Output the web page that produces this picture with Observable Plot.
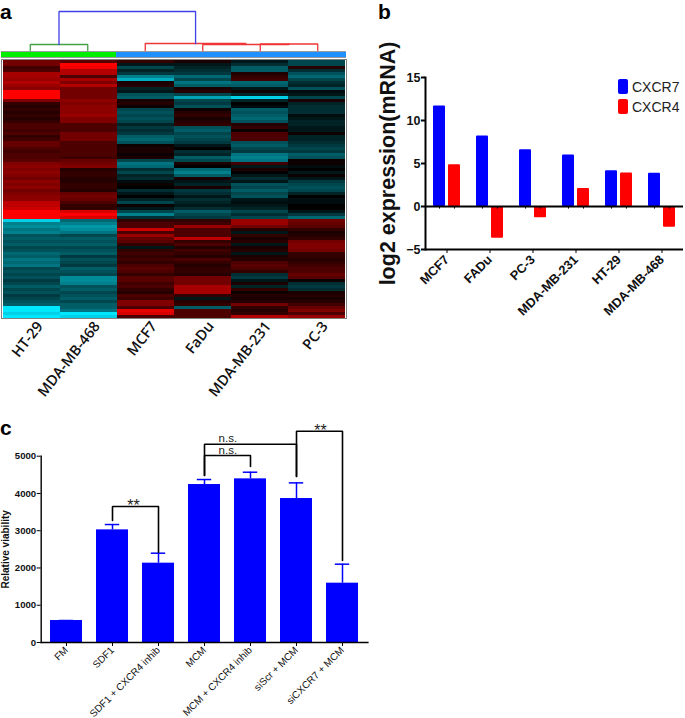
<!DOCTYPE html>
<html><head><meta charset="utf-8">
<script src="https://cdn.jsdelivr.net/npm/d3@7"></script>
<script src="https://cdn.jsdelivr.net/npm/@observablehq/plot@0.6"></script>
<style>
html,body{margin:0;padding:0;background:#fff}
#root{position:relative;width:685px;height:718px;overflow:hidden;font-family:"Liberation Sans",Arial,sans-serif}
#root>svg,#root>div{position:absolute}
#root svg{overflow:visible;background:transparent}
.letter{font-weight:bold;font-size:21px;color:#000}
.sw{border-radius:2px;width:10px;height:15px}
.lg{font-size:14px;line-height:16px;color:#222}
</style></head><body><div id="root"></div>
<script>
// Panel a: heat map (rows top to bottom)
const heatLines = ["HT-29","MDA-MB-468","MCF7","FaDu","MDA-MB-231","PC-3"];
const HT29 = [.45,.45,.25,.3,.65,.65,.6,.7,.6,.55, 1,1,1,.5,.2,.15,.2,.15,.2,.15, .2,.3,.3,.25,.3,.2,.25,.4,.4,.3, .25,.3,.3,.35,.5,.55,.5,.55,.5,.45, .55,.5,.55,.45,.5,.55,.55,.75,.75,.8, 1,1,1,-.9,-.55,-.6,-.5,-.55,-.35,-.4, -.35,-.4,-.3,-.35,-.45,-.4,-.5,-.45,-.5,-.3, -.35,-.3,-.35,-.25,-.3,-.4,-.3,-.35,-.25,-.3, -.35,-.4,-1,-1,-.9,-1];
const MB468 = [.35,1,.95,.7,.7,.3,.65,.5,.7,.45, .45,.45,.45,.55,.5,.55,.55,.55,.6,.5, .5,.3,.3,.3,.45,.45,.45,.3,.3,.3, .3,.3,.25,.4,.45,.5,.15,.2,.2,.15, .15,.2,.2,.15,.4,.45,.4,.3,.2,.2, .85,1,.85,-.45,-.55,-.65,-.6,-.5,-.3,-.4, -.35,-.4,-.3,-.35,-.4,-.25,-.35,-.3,-.25,-.4, -.35,-.3,-.6,-.6,-.55,-.35,-.4,-.3,-.35,-.4, -.3,-.4,-.4,-.5,-1,-.9];
const MCF7h = [.2,-.1,-.3,-.15,-.25,-.55,-.75,.1,.15,-.15, -.1,-.35,-.4,.1,.15,.05,-.3,-.35,-.3,-.35, -.3,-.15,-.25,-.2,-.25,-.4,-.45,-.35,.05,.1, .1,.05,.1,-.3,-.5,-.45,-.2,-.3,-.15,-.2, -.05,.05,0,-.2,-.1,0,-.15,-.3,.05,-.1, -.3,-.55,-.2,.2,.3,.3,.8,.3,.6,.4, .35,.2,-.1,.2,.25,.2,.25,.2,.3,.35, .3,.2,.35,.35,.25,.3,.2,.15,.3,.25, .5,.5,.3,.9,.85,.3];
const FaDuh = [.1,-.1,-.15,-.2,-.25,-.45,-.3,-.5,-.4,.1, .15,-.3,-.7,-.3,-.25,-.35,.05,.15,.2,.1, .15,.2,-.35,-.4,-.3,-.35,-.3,-.25,-.1,0, -.2,-.15,-.4,-.3,.1,0,-.45,-.55,-.4,.1, -.1,-.15,.1,-.25,-.2,-.1,-.2,-.15,-.1,-.2, -.4,-.3,-.25,.2,.25,.6,.3,.3,.3,.75, .2,.3,.15,.25,.2,.15,.3,.2,.15,.2, .2,.15,.45,.45,.45,.65,.65,.65,.2,-.1, .15,.2,-.4,.3,.3,.3];
const MB231 = [-.1,-.2,-.4,-.4,.12,.2,.25,-.45,-.4,-.1, .05,-.15,-.9,-.15,0,-.05,-.4,-.35,-.4,-.45, -.35,.15,.2,.05,.3,.3,.3,-.35,-.4,-.3, -.25,-.5,-.55,-.5,.25,-.1,.1,0,-.1,-.2, -.1,-.35,-.3,-.4,-.3,-.35,-.1,-.05,-.1,-.15, -.3,-.2,-.3,.6,.6,.45,.15,-.1,.2,.1, .15,-.1,.1,.15,-.1,.1,.15,.3,.35,.3, .2,-.2,-.25,-.1,.1,-.15,.2,.05,.15,.1, .15,.45,.2,.15,.2,.7];
const PC3h = [-.3,-.3,.15,-.2,-.35,-.45,-.3,-.2,-.15,-.35, -.05,-.1,-.3,.1,-.15,-.2,-.2,-.2,-.05,-.1, -.15,-.15,-.1,-.1,.05,-.15,-.15,-.2,-.25,-.3, -.25,-.4,-.35,.05,.05,-.05,0,-.1,.05,-.1, -.25,-.3,-.35,-.3,-.15,0,-.05,-.05,0,.02, -.1,-.25,-.45,.45,.4,.35,.2,.1,.15,.2, .45,.5,.5,.45,.2,.2,.15,.2,.25,.3, .3,.4,.35,.05,-.2,-.25,-.2,.1,.15,.1, .15,.25,.4,.5,.3,.6];
const heatColumns = [HT29,MB468,MCF7h,FaDuh,MB231,PC3h];
const clusterBar = [["#00ee00",0,2],["#1e90ff",2,6]];
// dendrogram merges: left, right, left base, right base, height, colour
const merges = [
  [0.5,1.5,0,0,6,"#45a045"],
  [4.5,5.5,0,0,6.5,"#f03535"],
  [3.5,5,0,6.5,6,"#f03535"],
  [2.5,4.25,0,6,7,"#f03535"],
  [1,3.375,6,7,39,"#4040e8"]
];
// Panel b
const cellsB = ["MCF7","FADu","PC-3","MDA-MB-231","HT-29","MDA-MB-468"];
const cxcr7 = [11.7,8.2,6.6,6.0,4.15,3.87];
const cxcr4 = [4.85,-3.7,-1.3,2.1,3.9,-2.4];
const seriesB = ["CXCR7","CXCR4"];
const seriesColors = ["#0000ff","#ff0000"];
const ticksB = [-5,0,5,10,15];
// Panel c
const treatments = ["FM","SDF1","SDF1 + CXCR4 inhib","MCM","MCM + CXCR4 inhib","siScr + MCM","siCXCR7 + MCM"];
const viability = [590,3023,2129,4240,4392,3864,1592];
const errorTop = [590,3166,2397,4374,4570,4284,2102];
const ticksC = [0,1000,2000,3000,4000,5000];
// brackets: left, right, left base, right base, top
const brackets = [
  ["SDF1","SDF1 + CXCR4 inhib",3274,2424,3649],
  ["MCM","MCM + CXCR4 inhib",4481,4723,5018],
  ["MCM","siScr + MCM",4481,4454,5322],
  ["siScr + MCM","siCXCR7 + MCM",4454,2200,5671]
];
const notes = [["**","SDF1",3660,21],["n.s.","MCM",5150,23.3],["n.s.","MCM",5480,23.3],["**","siScr + MCM",5690,24]];

const root = document.getElementById("root");
const arial = '"Liberation Sans",Arial,sans-serif';
function place(el,left,top){el.style.left=left+"px";el.style.top=top+"px";root.appendChild(el);return el;}
function html(cls,text,left,top){const d=document.createElement("div");d.className=cls;d.textContent=text;return place(d,left,top);}

// ---- panel a: dendrogram + cluster bar
const dendroPts = merges.flatMap(([l,r,lb,rb,h,c],i)=>[
  {x:l,h:lb,m:i,c},{x:l,h,m:i,c},{x:r,h,m:i,c},{x:r,h:rb,m:i,c}]);
place(Plot.plot({
  width:350,height:59,marginLeft:1,marginRight:4,marginTop:0,marginBottom:0,
  x:{domain:[0,6],axis:null},
  y:{domain:[50,-9],range:[0,59],axis:null},
  marks:[
    Plot.rect([0],{x1:0,x2:6,y1:-1,y2:-8,fill:"#9a9a9a"}),
    Plot.rect(clusterBar,{x1:d=>d[1],x2:d=>d[2],y1:-2,y2:-7,fill:d=>d[0]}),
    Plot.line(dendroPts,{x:"x",y:"h",z:"m",stroke:"c",strokeWidth:1.3,curve:"linear",strokeLinejoin:"miter"})
  ]
}),0,0);

// ---- panel a: heat map
const heatCells = heatLines.flatMap((line,c)=>heatColumns[c].map((v,r)=>({line,r,v})));
place(Plot.plot({
  width:350,height:345,marginLeft:1,marginRight:4,marginTop:0,marginBottom:86,
  x:{domain:heatLines,padding:0,label:null},
  y:{domain:d3.range(86),padding:0,axis:null},
  color:{type:"linear",domain:[-1,0,1],range:["#00e8ff","#000000","#ff0000"],clamp:true},
  marks:[
    Plot.cell(heatCells,{x:"line",y:"r",fill:"v",shapeRendering:"crispEdges"}),
    Plot.frame({stroke:"#808080",strokeWidth:1}),
    Plot.axisX({anchor:"bottom",tickSize:0,tickRotate:-52,tickPadding:5,dx:8,fontSize:14.5,fontWeight:600,fontFamily:'"Open Sans",sans-serif',label:null,fill:"#111"})
  ]
}),0,59);

// ---- panel b
const barsB = cellsB.flatMap((cell,i)=>[
  {cell,series:seriesB[0],value:cxcr7[i]},
  {cell,series:seriesB[1],value:cxcr4[i]}]);
place(Plot.plot({
  width:305,height:340,marginLeft:44,marginRight:2,marginTop:77,marginBottom:91,
  fx:{domain:cellsB,padding:0,label:null},
  x:{domain:seriesB,paddingInner:.19,paddingOuter:.45,axis:null},
  y:{domain:[-5,15],label:null},
  color:{domain:seriesB,range:seriesColors},
  marks:[
    Plot.barY(barsB,{fx:"cell",x:"series",y:"value",fill:"series",rx:1}),
    Plot.ruleY([0],{stroke:"#000",strokeWidth:2}),
    Plot.ruleY([-5],{stroke:"#000",strokeWidth:2}),
    Plot.ruleX(barsB,{fx:"cell",x:"series",y1:0,y2:-.3,stroke:"#000",strokeWidth:1}),
    Plot.axisY({ticks:ticksB,tickSize:4,tickPadding:1,fontSize:12.5,fontWeight:"bold",fontFamily:arial,fill:"#111",stroke:"#000",label:null,strokeWidth:2}),
    Plot.axisY({ticks:[],label:"log2 expression(mRNA)",labelAnchor:"center",labelArrow:"none",labelOffset:46,dy:-4,fontSize:21.5,fontWeight:"bold",fontFamily:arial,fill:"#111"}),
    Plot.frame({anchor:"left",facetAnchor:"left",stroke:"#000",strokeWidth:2}),
    Plot.axisFx({anchor:"bottom",tickSize:4,tickRotate:-45,tickPadding:4,fontSize:12.8,fontWeight:"bold",fontFamily:arial,fill:"#111",stroke:"#000",label:null})
  ]
}),380,0);
seriesB.forEach((s,i)=>{
  const sw=html("sw","",618,79+20*i); sw.style.background=seriesColors[i];
  html("lg",s,632,79+20*i);
});

// ---- panel c
const barsC = treatments.map((t,i)=>({t,v:viability[i],e:errorTop[i]}));
const bracketPts = brackets.flatMap(([l,r,lb,rb,top],i)=>[
  {x:l,y:lb,b:i},{x:l,y:top,b:i},{x:r,y:top,b:i},{x:r,y:rb,b:i}]);
place(Plot.plot({
  width:380,height:308,marginLeft:40.7,marginRight:12.6,marginTop:45.7,marginBottom:76,
  x:{domain:treatments,paddingInner:.3,paddingOuter:.15,label:null},
  y:{domain:[0,5000],label:null},
  marks:[
    Plot.barY(barsC,{x:"t",y:"v",fill:"#0000ff"}),
    Plot.ruleX(barsC,{x:"t",y1:"v",y2:"e",stroke:"#0000ff",strokeWidth:1.5}),
    Plot.tickY(barsC,{x:"t",y:"e",stroke:"#0000ff",strokeWidth:1.5,insetLeft:8.8,insetRight:8.8}),
    Plot.line(bracketPts,{x:"x",y:"y",z:"b",stroke:"#000",strokeWidth:1.6,curve:"linear",strokeLinejoin:"miter"}),
    ...notes.map(n=>Plot.text([n],{x:d=>d[1],y:d=>d[2],text:d=>d[0],dx:n[3],fontSize:n[0]==="**"?16:11.5,fontFamily:arial,fill:"#222"})),
    Plot.frame({anchor:"left",stroke:"#000",strokeWidth:1.4}),
    Plot.frame({anchor:"bottom",stroke:"#000",strokeWidth:1.4}),
    Plot.axisY({ticks:ticksC,tickFormat:"d",tickSize:4,tickPadding:1,fontSize:9.6,fontWeight:"bold",fontFamily:arial,fill:"#111",stroke:"#000",label:null}),
    Plot.axisY({ticks:[],label:"Relative viability",labelAnchor:"center",labelArrow:"none",labelOffset:39,fontSize:10,fontWeight:"bold",fontFamily:arial,fill:"#111"}),
    Plot.axisX({anchor:"bottom",tickSize:4,tickRotate:-45,tickPadding:2,fontSize:10,fontFamily:arial,fill:"#111",stroke:"#000",label:null})
  ]
}),0,410);

html("letter","a",0,0);
html("letter","b",378,0);
html("letter","c",0,416);
</script></body></html>
